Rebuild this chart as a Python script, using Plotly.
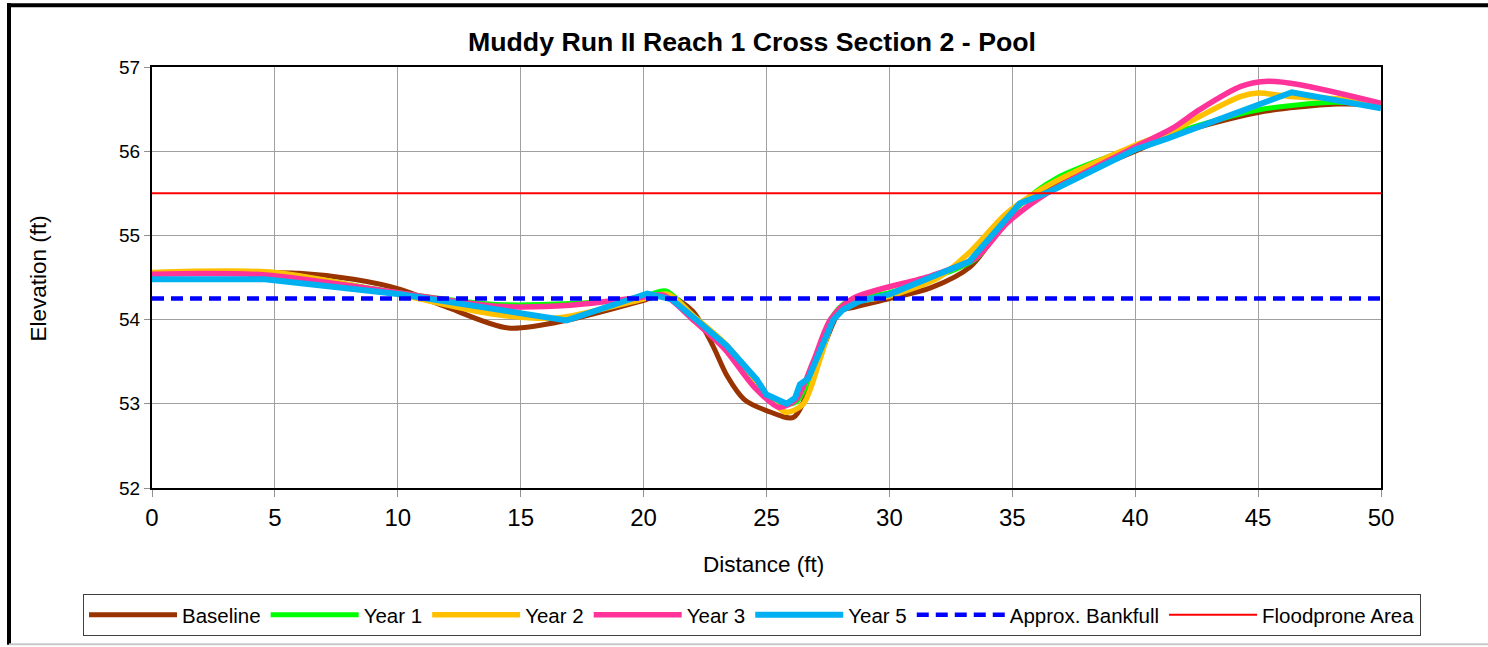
import plotly.graph_objects as go

# ---- data ----
baseline_x = [0, 3, 6, 8.2, 10.1, 11.9, 14.5, 17, 19.9, 20.9, 22, 22.8, 23.4, 24.1, 25, 26.1, 26.9, 27.45, 28, 28.6, 30, 31.7, 33.3, 35.2, 36.6, 40, 41.5, 45, 48.2, 50]
baseline_y = [54.56, 54.56, 54.55, 54.48, 54.36, 54.16, 53.90, 54.0, 54.22, 54.3, 54.1, 53.7, 53.33, 53.05, 52.92, 52.84, 53.33, 53.77, 54.1, 54.15, 54.25, 54.38, 54.63, 55.34, 55.58, 56.0, 56.19, 56.46, 56.56, 56.55]

year1_x = [0, 5, 10, 14, 17, 19.8, 20.9, 22, 23.3, 24.5, 25.5, 26.2, 26.9, 27.6, 28.3, 30, 32, 33.5, 35.3, 36.8, 40, 42.5, 45, 48.1, 50]
year1_y = [54.56, 54.55, 54.32, 54.18, 54.19, 54.25, 54.34, 54.05, 53.7, 53.25, 53.0, 53.02, 53.4, 54.0, 54.22, 54.32, 54.52, 54.72, 55.36, 55.68, 56.05, 56.3, 56.49, 56.58, 56.55]

year2_x = [0, 5, 10, 14, 16.5, 19.8, 21, 22, 23.3, 24.2, 25, 25.8, 26.5, 27.2, 27.8, 28.5, 30, 32, 33.3, 34.8, 36.5, 40, 41.5, 42.6, 44.3, 45.0, 46.3, 48.7, 50]
year2_y = [54.56, 54.56, 54.3, 54.06, 54.02, 54.23, 54.3, 54.05, 53.72, 53.41, 53.1, 52.9, 53.0, 53.55, 54.05, 54.2, 54.28, 54.5, 54.81, 55.27, 55.6, 56.07, 56.24, 56.41, 56.65, 56.69, 56.65, 56.61, 56.55]

year3_x = [0, 4.6, 10, 14, 17, 19.8, 20.8, 22, 23.3, 24.5, 25.5, 26.2, 26.9, 27.6, 28.5, 31.7, 33.5, 34.8, 36.4, 40, 41.5, 42.6, 44.3, 45.4, 46.7, 50]
year3_y = [54.54, 54.53, 54.32, 54.16, 54.17, 54.26, 54.29, 54.0, 53.65, 53.2, 52.96, 53.05, 53.5, 54.0, 54.25, 54.52, 54.73, 55.15, 55.5, 56.05, 56.27, 56.49, 56.77, 56.83, 56.79, 56.57]

year5_x = [0, 4.6, 10.1, 14.0, 16.87, 20.15, 21.15, 22.3, 23.38, 24.6, 25.0, 25.82, 26.16, 26.36, 26.7, 27.18, 27.72, 28.12, 28.8, 30, 33.25, 35.3, 36.6, 40, 41.3, 46.37, 50]
year5_y = [54.48, 54.48, 54.30, 54.12, 53.99, 54.31, 54.24, 53.96, 53.69, 53.29, 53.11, 53.0, 53.07, 53.23, 53.30, 53.63, 54.0, 54.12, 54.22, 54.3, 54.69, 55.38, 55.53, 56.02, 56.15, 56.70, 56.51]

bankfull_x = [0, 50]
bankfull_y = [54.25, 54.25]
floodprone_x = [0, 50]
floodprone_y = [55.5, 55.5]

x_ticks = [0, 5, 10, 15, 20, 25, 30, 35, 40, 45, 50]
y_ticks = [52, 53, 54, 55, 56, 57]

FONT = "Arial, Liberation Sans, sans-serif"

fig = go.Figure()
fig.add_trace(go.Scatter(x=baseline_x, y=baseline_y, name="Baseline", mode="lines",
                         line=dict(color="#993300", width=5, shape="spline", smoothing=0.8)))
fig.add_trace(go.Scatter(x=year1_x, y=year1_y, name="Year 1", mode="lines",
                         line=dict(color="#00FF00", width=5, shape="spline", smoothing=0.8)))
fig.add_trace(go.Scatter(x=year2_x, y=year2_y, name="Year 2", mode="lines",
                         line=dict(color="#FFC000", width=5.5, shape="spline", smoothing=0.8)))
fig.add_trace(go.Scatter(x=year3_x, y=year3_y, name="Year 3", mode="lines",
                         line=dict(color="#FF3399", width=5.5, shape="spline", smoothing=0.8)))
fig.add_trace(go.Scatter(x=year5_x, y=year5_y, name="Year 5", mode="lines",
                         line=dict(color="#00B0F0", width=6)))
fig.add_trace(go.Scatter(x=bankfull_x, y=bankfull_y, name="Approx. Bankfull", mode="lines",
                         line=dict(color="#0000FF", width=4.5, dash="12px,7px")))
fig.add_trace(go.Scatter(x=floodprone_x, y=floodprone_y, name="Floodprone Area", mode="lines",
                         line=dict(color="#FF0000", width=2)))

L, R, T, B = 152, 1381, 67, 489
W, H = 1488, 647
pw, ph = R - L, B - T

def px_x(px):
    return (px - L) / pw

def px_y(py):
    return (B - py) / ph

shapes = [
    dict(type="line", xref="paper", yref="paper", x0=px_x(9), x1=px_x(9), y0=px_y(646), y1=px_y(3),
         line=dict(color="black", width=4)),
    dict(type="line", xref="paper", yref="paper", x0=px_x(7), x1=px_x(1495), y0=px_y(5), y1=px_y(5),
         line=dict(color="black", width=4)),
    dict(type="line", xref="paper", yref="paper", x0=px_x(9), x1=px_x(1495), y0=px_y(645.5), y1=px_y(645.5),
         line=dict(color="#c8c8c8", width=2)),
]

annotations = [
    dict(text="Distance (ft)", xref="paper", yref="paper", x=px_x(763), y=px_y(566),
         xanchor="center", yanchor="middle", showarrow=False, font=dict(family=FONT, size=22.5, color="black")),
    dict(text="Elevation (ft)", xref="paper", yref="paper", x=px_x(38), y=px_y(279),
         xanchor="center", yanchor="middle", textangle=-90, showarrow=False,
         font=dict(family=FONT, size=22.5, color="black")),
]

fig.update_layout(
    width=W, height=H,
    margin=dict(l=L, r=W - R, t=T, b=H - B, pad=0),
    paper_bgcolor="white", plot_bgcolor="white",
    title=dict(text="<b>Muddy Run II Reach 1 Cross Section 2 - Pool</b>", x=752 / W, y=1 - 42 / H,
               xref="container", yref="container",
               xanchor="center", yanchor="middle",
               font=dict(family=FONT, size=26.7, color="black")),
    font=dict(family=FONT, color="black"),
    showlegend=True,
    legend=dict(orientation="h", x=px_x(83), y=px_y(594), xanchor="left", yanchor="top",
                bordercolor="#404040", borderwidth=1, bgcolor="white", itemwidth=88,
                font=dict(family=FONT, size=20.5, color="black"), tracegroupgap=0),
    shapes=shapes,
    annotations=annotations,
)

fig.update_xaxes(range=[0, 50], tickvals=x_ticks, ticktext=[str(v) for v in x_ticks],
                 showgrid=True, gridcolor="#a0a0a0", gridwidth=1,
                 showline=True, linecolor="black", linewidth=2, mirror=True,
                 ticks="outside", ticklen=7, tickcolor="#909090", tickwidth=1,
                 tickfont=dict(family=FONT, size=24, color="black"), zeroline=False)
fig.update_yaxes(range=[52, 57], tickvals=y_ticks, ticktext=[str(v) for v in y_ticks],
                 showgrid=True, gridcolor="#a0a0a0", gridwidth=1,
                 showline=True, linecolor="black", linewidth=2, mirror=True,
                 ticks="outside", ticklen=6, tickcolor="#909090", tickwidth=1,
                 tickfont=dict(family=FONT, size=19, color="black"), zeroline=False)

fig.write_html("out.html", config={"displayModeBar": False},
               post_script="document.body.style.margin='0px';document.body.style.overflow='hidden';")
